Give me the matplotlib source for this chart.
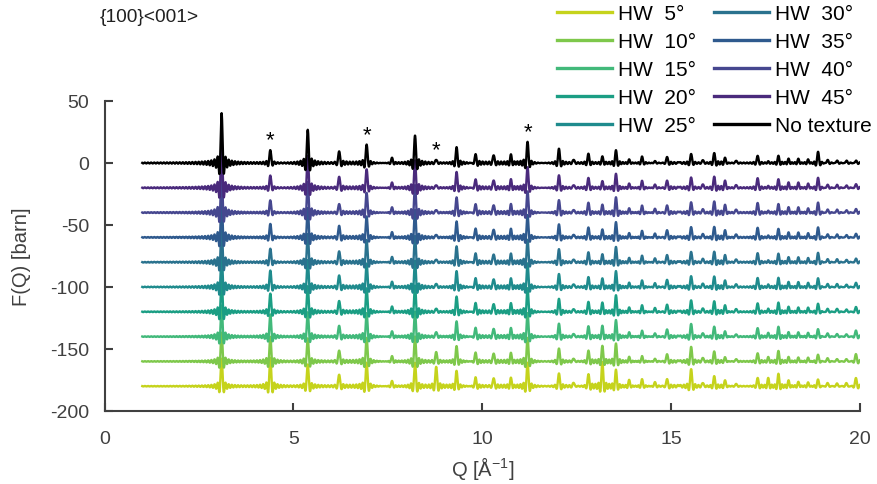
import numpy as np
import matplotlib
matplotlib.use('Agg')
import matplotlib.pyplot as plt

plt.rcParams['font.family'] = ['Liberation Sans', 'DejaVu Sans']
plt.rcParams['mathtext.fontset'] = 'custom'
plt.rcParams['mathtext.rm'] = 'Liberation Sans'
plt.rcParams['axes.unicode_minus'] = False

# Bragg peak positions (1/Angstrom)
peak_q = [3.10, 4.39, 5.38, 6.21, 6.94, 7.61, 8.22, 8.78, 9.32, 9.82,
          10.30, 10.76, 11.20, 12.03, 12.42, 12.81, 13.18, 13.54, 13.89, 14.23,
          14.57, 14.89, 15.21, 15.53, 15.84, 16.14, 16.43, 16.72, 17.29, 17.57,
          17.84, 18.11, 18.37, 18.63, 18.89, 19.14, 19.39, 19.64, 19.89]

# peak heights (barn) for each texture half-width
h_none = [40, 10.5, 27, 10, 15, 4, 22, 3, 12.5, 7, 7, 6, 17, 11.5, 3, 7.5, 5, 10, 2.5, 5,
          1.5, 5, 1, 7.5, 2.5, 8, 4, 2, 6, 1, 5.5, 3, 3, 2.5, 9, 2.5, 2, 2, 2]
h_45 = [36, 10, 26, 9.5, 15, 4, 22, 2.5, 12.5, 6.7, 6.7, 6, 16.5, 10, 2.5, 8, 5, 11, 3, 5.4,
        2.5, 6, 1, 8.6, 3, 9, 5.5, 2.5, 8, 1, 6.5, 3.8, 3.8, 3, 8, 2.5, 2.5, 2, 3]
h_40 = [34, 10, 25, 7.5, 16, 4, 22, 2.5, 12, 6.7, 6.7, 6, 17, 10, 2.5, 8, 6, 12, 3, 5.4,
        3, 6, 1, 8.6, 3, 9, 6, 2.7, 8, 1, 6.5, 3.8, 3.8, 3, 8, 2.5, 2.5, 2, 3]
h_35 = [32, 11, 24, 10, 17, 4, 22, 2.5, 12.6, 7, 7, 6, 18, 10.5, 2.5, 8, 6, 12, 3, 5,
        3, 6, 1, 8.6, 3, 8.5, 5.5, 2.7, 8, 1, 6.5, 3.5, 3.5, 3, 8, 2.5, 2.5, 2, 3]
h_30 = [30, 11, 23, 9.4, 18, 4, 21, 2.5, 12.5, 7, 7, 6, 18, 10.5, 2.5, 8, 6, 12, 3, 5,
        3, 6, 1, 8.6, 3, 8.5, 5.5, 2.5, 7.5, 1, 6.5, 3.5, 3.5, 3, 7.5, 2.5, 2.5, 2, 3]
h_25 = [28, 13.4, 22, 10, 19, 4, 21, 3, 12.5, 7, 7, 6, 19, 10.5, 2.5, 8, 6.5, 12.5, 3, 5,
        3, 6, 1, 9, 3, 8.5, 5, 2.5, 7.5, 1.5, 7, 3.5, 3.5, 3, 7, 2.5, 2.5, 2, 3.5]
h_20 = [27, 14.8, 21, 9.4, 19, 4, 21, 3, 12, 7, 7, 6, 19, 10.5, 2.5, 8, 7, 13, 3, 5,
        3, 6, 1, 9.5, 3, 8.5, 5, 2.5, 7, 2, 7, 3.5, 3, 3, 6.5, 2.5, 2.5, 2, 4]
h_15 = [25, 18, 20, 9.4, 19, 4, 20, 4, 12, 7, 7, 6, 19, 10.5, 2.5, 8.3, 8.3, 13, 3, 4.5,
        2.5, 6, 1, 10.5, 3, 8, 4, 2, 7, 2.5, 7.5, 3, 3, 2.7, 6, 2.7, 2.2, 2, 5]
h_10 = [23, 20, 19, 9.4, 19, 4, 20, 8, 12, 7, 7, 6, 19, 10.5, 2.5, 8.6, 12, 14, 3.2, 4,
        2, 6, 1, 12, 3.2, 8, 3.2, 2, 6.7, 3, 8, 3, 2.7, 2.7, 5.4, 2.7, 2, 2, 6]
h_5 = [22, 23, 18, 10, 19, 4, 19, 16, 12, 7, 7, 6, 19, 10.5, 3, 9.4, 19, 12.6, 4.6, 5.4,
       3.2, 6, 1, 14, 3, 8, 4.6, 2, 6.7, 6, 9.4, 4, 3, 2.7, 5.4, 2.7, 2.4, 2.7, 6.7]

labels = ['HW  5°', 'HW  10°', 'HW  15°', 'HW  20°', 'HW  25°',
          'HW  30°', 'HW  35°', 'HW  40°', 'HW  45°', 'No texture']
heights = [h_5, h_10, h_15, h_20, h_25, h_30, h_35, h_40, h_45, h_none]
offsets = [-180, -160, -140, -120, -100, -80, -60, -40, -20, 0]
colors = ['#c5d31c', '#7ec84b', '#42b97a', '#1b9e84', '#1f8b8d',
          '#2a728e', '#2f5a8e', '#46478f', '#4a2a7c', '#000000']

# stars mark selected reflections of the untextured pattern
star_q = [4.39, 6.94, 8.78, 11.20]

q = np.arange(1.0, 20.0, 0.004)
w = 0.042  # width of the truncation-broadened peak


def pattern(hts):
    f = np.zeros_like(q)
    for q0, a in zip(peak_q, hts):
        f += a * np.sinc((q - q0) / w)
    return f


fig = plt.figure(figsize=(8.77, 4.85), dpi=100)
ax = fig.add_axes([104.5 / 877, 1 - 412 / 485, (860 - 104.5) / 877, 310 / 485])

lines = []
for hts, off, c, lab in zip(heights, offsets, colors, labels):
    ln, = ax.plot(q, pattern(hts) + off, color=c, lw=1.7, label=lab)
    lines.append(ln)

for sq in star_q:
    i = peak_q.index(sq)
    ax.text(sq, h_none[i] + 8, '*', ha='center', va='center', fontsize=16)

ax.set_xlim(0, 20)
ax.set_ylim(-200, 50)
ax.set_xticks([0, 5, 10, 15, 20])
ax.set_yticks([-200, -150, -100, -50, 0, 50])
ax.tick_params(direction='in', length=6, width=1.5, color='#404040',
               labelsize=14, labelcolor='#404040')
ax.tick_params(axis='x', pad=14)
ax.tick_params(axis='y', pad=11)
for s in ['top', 'right']:
    ax.spines[s].set_visible(False)
for s in ['left', 'bottom']:
    ax.spines[s].set_color('#404040')
    ax.spines[s].set_linewidth(1.5)

ax.set_xlabel('Q [Å$^{\\mathregular{-1}}$]', fontsize=14.5, color='#404040', labelpad=5)
ax.set_ylabel('F(Q) [barn]', fontsize=14.5, color='#404040', labelpad=14)

fig.text(100 / 877, 1 - 18 / 485, '{100}<001>', fontsize=13.8, va='center', ha='left',
         color='#202020')

leg = fig.legend(handles=lines, ncol=2, loc='upper left',
                 bbox_to_anchor=(557 / 877, 1 - 5 / 485), bbox_transform=fig.transFigure,
                 frameon=False, fontsize=15, handlelength=2.65, handletextpad=0.28,
                 columnspacing=0.85, labelspacing=0.43, borderpad=0, borderaxespad=0)
for ln in leg.get_lines():
    ln.set_linewidth(2.4)

fig.savefig('out.png', dpi=100)
plt.close(fig)
